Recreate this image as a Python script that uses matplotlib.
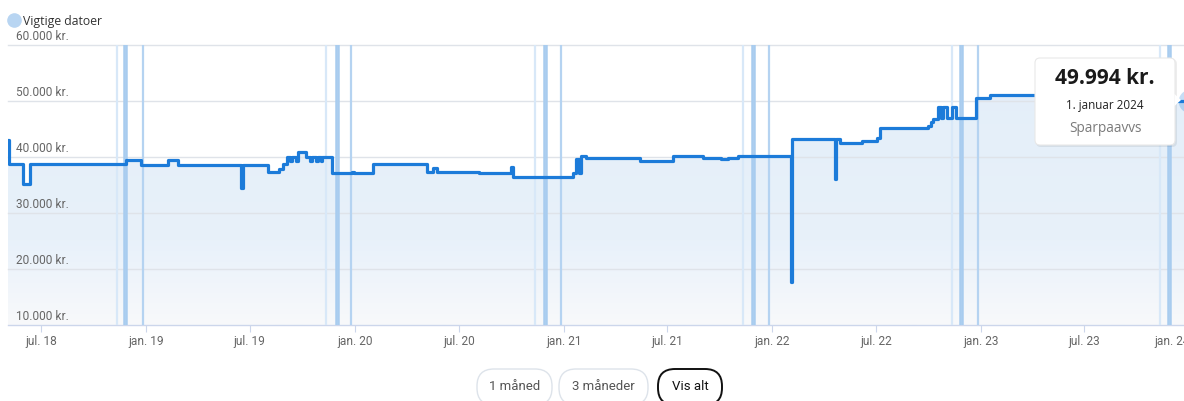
import numpy as np
import matplotlib
matplotlib.use("Agg")
import matplotlib.pyplot as plt
import matplotlib.dates as mdates
import matplotlib.transforms as mtransforms
from matplotlib.patches import FancyBboxPatch, Polygon
from matplotlib.lines import Line2D
from matplotlib.colors import LinearSegmentedColormap

W, H = 1184, 401

# price history (step series)
dates = ["2018-05-04", "2018-05-05", "2018-05-31", "2018-06-12", "2018-11-26", "2018-12-23",
         "2019-02-08", "2019-02-26", "2019-06-16", "2019-06-19", "2019-08-02", "2019-08-21",
         "2019-08-28", "2019-09-04", "2019-09-09", "2019-09-13", "2019-09-20", "2019-09-23",
         "2019-10-07", "2019-10-14", "2019-10-18", "2019-10-25", "2019-10-28", "2019-11-03",
         "2019-11-05", "2019-11-22", "2019-12-27", "2019-12-31", "2020-02-02", "2020-05-07",
         "2020-05-17", "2020-05-24", "2020-07-03", "2020-08-05", "2020-09-30", "2020-10-04",
         "2021-01-17", "2021-01-22", "2021-01-27", "2021-01-31", "2021-02-08", "2021-05-14",
         "2021-07-11", "2021-09-01", "2021-10-03", "2021-10-15", "2021-11-01", "2022-02-02",
         "2022-02-04", "2022-04-20", "2022-04-22", "2022-04-29", "2022-06-06", "2022-07-03",
         "2022-07-08", "2022-09-30", "2022-10-05", "2022-10-09", "2022-10-17", "2022-10-23",
         "2022-10-26", "2022-11-02", "2022-11-11", "2022-11-18", "2022-12-23", "2023-01-16",
         "2023-11-15", "2024-01-01"]
prices = [43000, 38750, 35200, 38750, 39450, 38600,
          39450, 38600, 34500, 38600, 37300, 37900,
          38700, 40000, 39200, 40000, 39200, 40900,
          40000, 39300, 40000, 39300, 40000, 39300,
          40000, 37100, 37400, 37100, 38700, 37400,
          38000, 37400, 37300, 37200, 38200, 36400,
          37100, 39600, 37100, 40200, 39800, 39200,
          40200, 39900, 39600, 39900, 40200, 17600,
          43300, 36000, 43300, 42500, 42900, 43400,
          45100, 45500, 46300, 46800, 49000, 47000,
          49000, 47000, 49000, 46900, 50500, 51000,
          49994, 49994]

# "Vigtige datoer"
singles_day = ["2018-11-11", "2019-11-11", "2020-11-11", "2021-11-11", "2022-11-11", "2023-11-11"]
black_friday = ["2018-11-23", "2019-11-29", "2020-11-27", "2021-11-26", "2022-11-25", "2023-11-24"]
cyber_monday = ["2018-11-26", "2019-12-02", "2020-11-30", "2021-11-29", "2022-11-28", "2023-11-27"]
boxing_day = ["2018-12-26", "2019-12-26", "2020-12-26", "2021-12-26", "2022-12-26", "2023-12-26"]

y_ticks = [10000, 20000, 30000, 40000, 50000, 60000]
y_labels = ["10.000 kr.", "20.000 kr.", "30.000 kr.", "40.000 kr.", "50.000 kr.", "60.000 kr."]
x_ticks = ["2018-07-01", "2019-01-01", "2019-07-01", "2020-01-01", "2020-07-01", "2021-01-01",
           "2021-07-01", "2022-01-01", "2022-07-01", "2023-01-01", "2023-07-01", "2024-01-01"]
x_labels = ["jul. 18", "jan. 19", "jul. 19", "jan. 20", "jul. 20", "jan. 21",
            "jul. 21", "jan. 22", "jul. 22", "jan. 23", "jul. 23", "jan. 24"]

tip_value = "49.994 kr."
tip_date = "1. januar 2024"
tip_shop = "Sparpaavvs"
buttons = ["1 måned", "3 måneder", "Vis alt"]

d = np.array(dates, dtype="datetime64[D]")
v = np.array(prices)
x0 = mdates.date2num(np.datetime64("2018-05-04"))
x1 = mdates.date2num(np.datetime64("2024-01-01"))

fig = plt.figure(figsize=(W / 100, H / 100), dpi=100)
px = mtransforms.Affine2D().scale(1 / 100) + fig.dpi_scale_trans

ax = fig.add_axes([8 / W, (H - 325) / H, 1181.6 / W, 280 / H])

# gradient area under the line
poly = ax.fill_between(d, v, 10000, step="post", facecolor="none", lw=0)
cmap = LinearSegmentedColormap.from_list("fill", [(0, "#f8f9fb"), (0.3, "#e8f1fa"), (1, "#e3eef9")])
grad = np.linspace(1, 0, 256).reshape(-1, 1)
im = ax.imshow(grad, aspect="auto", cmap=cmap, extent=[x0, x1, 10000, 60000], zorder=1)
im.set_clip_path(poly.get_paths()[0], ax.transData)

for y in y_ticks[1:]:
    ax.axhline(y, color="#dfe3e9", lw=1, zorder=2, clip_on=False)

for dd in singles_day:
    ax.axvline(np.datetime64(dd), color="#d8e8f8", lw=1.6, zorder=3)
for dd in black_friday + cyber_monday:
    ax.axvline(np.datetime64(dd), color="#a8ccef", lw=1.8, zorder=3)
for dd in boxing_day:
    ax.axvline(np.datetime64(dd), color="#b5d3f1", lw=1.6, zorder=3)

ax.plot(d, v, drawstyle="steps-post", color="#1c7bd9", lw=2.3, zorder=5)

# hovered point
ax.plot(d[-1:], v[-1:], "o", ms=17, color="#1c7bd9", alpha=0.25, mec="none", clip_on=False, zorder=6)
ax.plot(d[-1:], v[-1:], "o", ms=7, color="#1c7bd9", mec="white", clip_on=False, zorder=7)

ax.set_xlim(x0, x1)
ax.set_ylim(10000, 60000)
ax.set_yticks([])
ax.set_xticks(mdates.date2num(np.array(x_ticks, dtype="datetime64[D]")))
ax.set_xticklabels(x_labels, family="Roboto")
ax.get_xticklabels()[-1].set_ha("right")
ax.tick_params(axis="x", length=5, width=0.8, color="#ccd6eb", labelsize=8.6,
               labelcolor="#666666", pad=2)
for s in ["top", "left", "right"]:
    ax.spines[s].set_visible(False)
ax.spines["bottom"].set_color("#ccd6eb")
ax.spines["bottom"].set_linewidth(1)

for y, lab in zip(y_ticks, y_labels):
    ax.annotate(lab, xy=(0, y), xycoords=ax.get_yaxis_transform(), xytext=(8, 8),
                textcoords="offset pixels", ha="left", va="center", fontsize=8.6,
                color="#666666", family="Roboto", zorder=4)

# legend
fig.add_artist(Line2D([14], [H - 20], transform=px, marker="o", ms=9.5, color="#b8d5f2", ls="none"))
fig.text(23, H - 21, "Vigtige datoer", transform=px, ha="left", va="center",
         fontsize=8.8, color="#333333", family="Open Sans")

# tooltip
fig.add_artist(FancyBboxPatch((1036, H - 147), 141, 88, boxstyle="round,pad=0,rounding_size=5",
                              transform=px, fc="black", ec="none", alpha=0.07, zorder=9))
fig.add_artist(FancyBboxPatch((1035, H - 145), 140, 87, boxstyle="round,pad=0,rounding_size=5",
                              transform=px, fc="white", ec="#e8e8e8", lw=0.8, zorder=10))
fig.add_artist(Polygon([(1174.5, H - 94), (1181, H - 100), (1174.5, H - 106)], transform=px,
                       fc="white", ec="none", zorder=11))
fig.text(1105, H - 78, tip_value, transform=px, ha="center", va="center", fontsize=15,
         fontweight="bold", color="#1a1a1a", family="Open Sans", zorder=12)
fig.text(1105, H - 105, tip_date, transform=px, ha="center", va="center", fontsize=8.4,
         color="#222222", family="Open Sans", zorder=12)
fig.text(1105, H - 128, tip_shop, transform=px, ha="center", va="center", fontsize=9.8,
         color="#7a7a7a", family="Open Sans", zorder=12)

# range buttons
bx = [(477, 552), (559, 648), (658, 722)]
for (a, b), lab in zip(bx, buttons):
    active = lab == "Vis alt"
    fig.add_artist(FancyBboxPatch((a, H - 405), b - a, 36, boxstyle="round,pad=0,rounding_size=17",
                                  transform=px, fc="white", ec="#111111" if active else "#dde3ea",
                                  lw=1.4 if active else 1.0))
    fig.text((a + b) / 2, H - 387, lab, transform=px, ha="center", va="center", fontsize=9.5,
             color="#111111" if active else "#555555", family="Roboto")

plt.savefig("out.png", dpi=100)
